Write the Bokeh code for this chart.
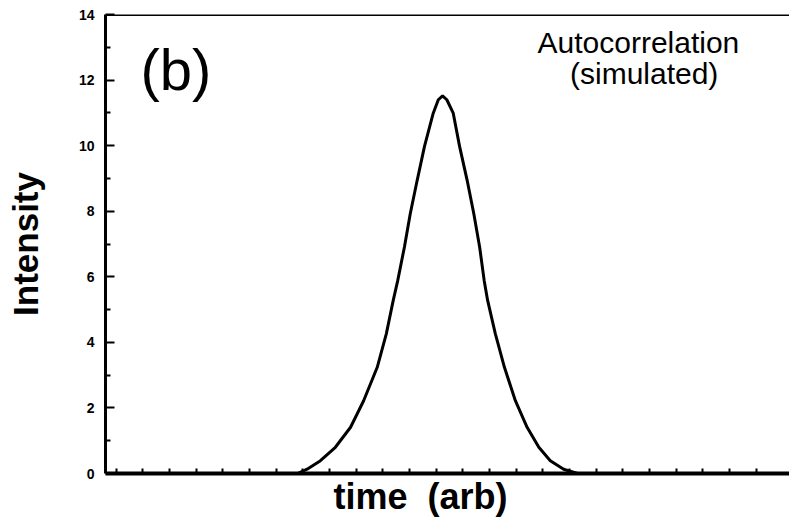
from bokeh.plotting import figure
from bokeh.models import Range1d, FixedTicker, Span, Label, Title
from bokeh.embed import file_html
from bokeh.resources import INLINE

# ---- data ----
time_ticks = list(range(0, 25))
y_ticks = [0, 2, 4, 6, 8, 10, 12, 14]
y_minor = [1, 3, 5, 7, 9, 11, 13]

curve_x = [-0.40, 6.80, 7.16, 7.66, 8.22, 8.79, 9.28, 9.79, 10.13, 10.39, 10.56,
           10.81, 11.03, 11.29, 11.56, 11.89, 12.08, 12.24, 12.40, 12.64, 12.88,
           13.16, 13.41, 13.63, 13.80, 13.93, 14.22, 14.56, 14.97, 15.41, 15.85,
           16.28, 16.78, 17.30, 25.25]
curve_y = [0.00, 0.00, 0.13, 0.39, 0.80, 1.41, 2.22, 3.24, 4.26, 5.28, 5.89,
           6.91, 7.93, 8.95, 9.97, 10.99, 11.40, 11.52, 11.40, 10.99, 9.97,
           8.95, 7.93, 6.91, 5.89, 5.28, 4.26, 3.24, 2.22, 1.41, 0.80,
           0.39, 0.13, 0.00, 0.00]

FONT = "Liberation Sans"

p = figure(width=789, height=527, output_backend="svg", toolbar_location=None,
           x_range=Range1d(-0.40, 25.25), y_range=Range1d(0, 14),
           min_border_left=105, min_border_right=0, min_border_top=14,
           min_border_bottom=54)
p.outline_line_color = None
p.grid.visible = False
p.background_fill_color = "white"
p.border_fill_color = "white"

# y axis
ya = p.yaxis[0]
ya.ticker = FixedTicker(ticks=y_ticks, minor_ticks=y_minor)
ya.major_tick_in = 9
ya.major_tick_out = 0
ya.minor_tick_in = 5
ya.minor_tick_out = 0
ya.major_tick_line_width = 2
ya.minor_tick_line_width = 2
ya.axis_line_width = 3
ya.axis_line_color = "black"
ya.major_tick_line_color = "black"
ya.minor_tick_line_color = "black"
ya.major_label_text_font = FONT
ya.major_label_text_font_style = "bold"
ya.major_label_text_font_size = "14px"
ya.major_label_text_color = "black"
ya.major_label_standoff = 11
ya.axis_label = "Intensity"
ya.axis_label_text_font = FONT
ya.axis_label_text_font_style = "bold"
ya.axis_label_text_font_size = "35px"
ya.axis_label_text_color = "black"
ya.axis_label_standoff = 31

# x axis
xa = p.xaxis[0]
xa.ticker = FixedTicker(ticks=time_ticks, minor_ticks=[])
xa.major_tick_in = 5
xa.major_tick_out = 0
xa.major_tick_line_width = 2
xa.major_tick_line_color = "black"
xa.axis_line_width = 4
xa.axis_line_color = "black"
xa.major_label_text_alpha = 0
xa.major_label_text_font_size = "1px"
xa.major_label_standoff = 0

p.add_layout(Title(text="time \u00a0(arb)", align="left", offset=228,
                   text_font=FONT, text_font_size="36px", text_font_style="bold",
                   text_color="black", standoff=0), "below")

p.add_layout(Span(location=14, dimension="width", line_color="black", line_width=3))

p.line(curve_x, curve_y, line_color="black", line_width=3)

p.add_layout(Label(x=0.91, y=12.33, text="(b)", text_font=FONT, text_color="black",
                   text_font_size="58px", text_baseline="alphabetic"))
p.add_layout(Label(x=15.80, y=13.15, text="Autocorrelation", text_font=FONT,
                   text_color="black", text_font_size="30px",
                   text_baseline="alphabetic"))
p.add_layout(Label(x=19.80, y=12.20, text="(simulated)", text_font=FONT,
                   text_color="black", text_font_size="30px",
                   text_baseline="alphabetic", text_align="center"))

open("out.html", "w").write(file_html(p, INLINE))
